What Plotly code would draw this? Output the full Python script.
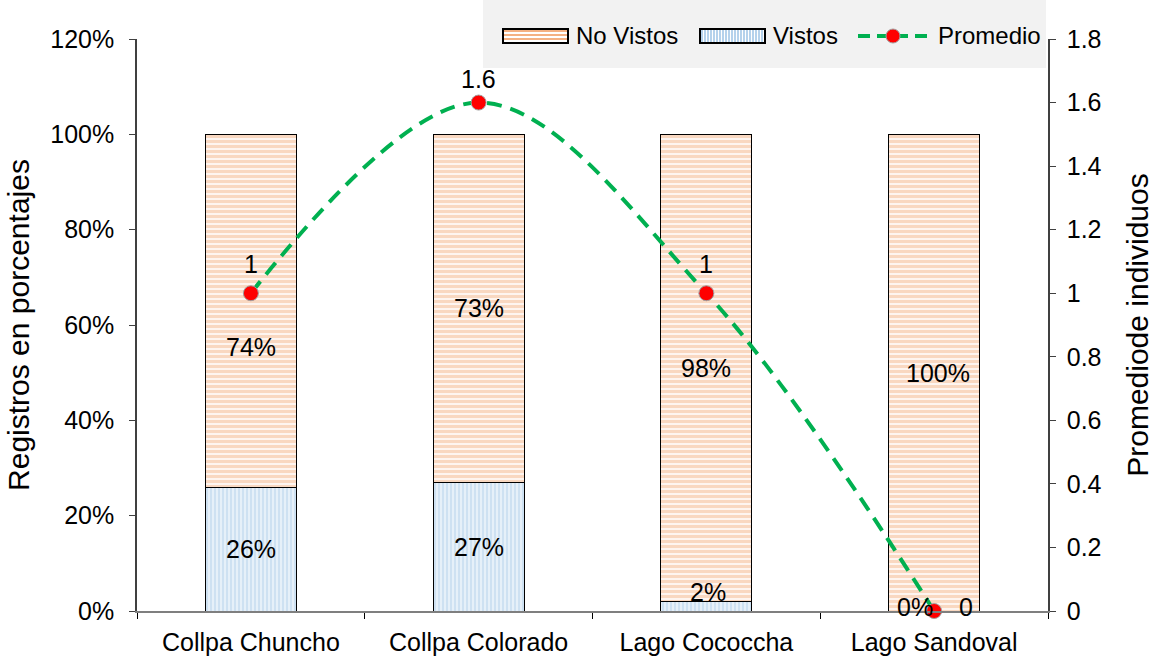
import plotly.graph_objects as go

# Sites and observation shares
sitios = ["Collpa Chuncho", "Collpa Colorado", "Lago Cococcha", "Lago Sandoval"]
vistos = [0.26, 0.27, 0.02, 0.00]
no_vistos = [0.74, 0.73, 0.98, 1.00]
promedio = [1, 1.6, 1, 0]

FONT = "Liberation Sans, Arial, sans-serif"
FS = 25
ORANGE = "#F4B183"
BLUE = "#9DC3E6"
GREEN = "#00B050"

# Figure geometry (pixels)
W, H = 1156, 660
L, R, B = 137, 108, 49
PLOT_TOP = 39
PW = W - L - R
PH = H - B  # paper height (top margin is zero)


def px(x):
    return (x - L) / PW


def py(y):
    return (PH - y) / PH


fig = go.Figure()

fig.add_trace(go.Bar(
    x=sitios, y=vistos, name="Vistos", showlegend=False,
    marker=dict(color="white", line=dict(color="black", width=1),
                pattern=dict(shape="|", fgcolor=BLUE, bgcolor="white",
                             size=4, solidity=0.75)),
    width=0.4,
))
fig.add_trace(go.Bar(
    x=sitios, y=no_vistos, name="No Vistos", showlegend=False,
    marker=dict(color="white", line=dict(color="black", width=1),
                pattern=dict(shape="-", fgcolor=ORANGE, bgcolor="white",
                             size=5, solidity=0.7)),
    width=0.4,
))
fig.add_trace(go.Scatter(
    x=sitios, y=promedio, name="Promedio", yaxis="y2", showlegend=False,
    mode="lines+markers",
    line=dict(color=GREEN, width=4, dash="15px,9px", shape="spline", smoothing=1.0),
    marker=dict(color="#FF0000", size=15, line=dict(color="#A0A0A0", width=1)),
    cliponaxis=False,
))

txt = dict(family=FONT, size=FS, color="black")

# Percentage labels inside each stacked segment
shifts_v = [(0, 0), (0, 0), (2, 14), (-19, 4)]
shifts_n = [(0, -36), (0, 0), (0, 0), (4, 0)]
for i, s in enumerate(sitios):
    fig.add_annotation(x=s, y=vistos[i] / 2, text=f"{vistos[i]:.0%}", showarrow=False,
                       xshift=shifts_v[i][0], yshift=shifts_v[i][1], font=txt)
    fig.add_annotation(x=s, y=vistos[i] + no_vistos[i] / 2, text=f"{no_vistos[i]:.0%}",
                       showarrow=False, xshift=shifts_n[i][0], yshift=shifts_n[i][1],
                       font=txt)

# Average labels next to each point
shifts_p = [(0, 29), (0, 24), (0, 29), (32, 4)]
for i, s in enumerate(sitios):
    fig.add_annotation(x=s, y=promedio[i], yref="y2", text=f"{promedio[i]:g}",
                       showarrow=False, xshift=shifts_p[i][0], yshift=shifts_p[i][1],
                       font=txt)

# Legend box drawn by hand so the swatches are wide pattern rectangles
shapes = [dict(type="rect", xref="paper", yref="paper", x0=px(483), x1=px(1046),
               y0=py(68), y1=py(0), fillcolor="#F2F2F2", line=dict(width=0), layer="below")]
sw_y0, sw_y1 = 29, 43
shapes.append(dict(type="rect", xref="paper", yref="paper", x0=px(503), x1=px(568),
                   y0=py(sw_y1), y1=py(sw_y0), fillcolor="white", line=dict(width=0)))
for yy in range(31, 43, 4):
    shapes.append(dict(type="line", xref="paper", yref="paper", x0=px(503), x1=px(568),
                       y0=py(yy), y1=py(yy), line=dict(color=ORANGE, width=2)))
shapes.append(dict(type="rect", xref="paper", yref="paper", x0=px(503), x1=px(568),
                   y0=py(sw_y1), y1=py(sw_y0), line=dict(color="black", width=2)))
shapes.append(dict(type="rect", xref="paper", yref="paper", x0=px(700), x1=px(765),
                   y0=py(sw_y1), y1=py(sw_y0), fillcolor="white", line=dict(width=0)))
for xx in range(702, 765, 3):
    shapes.append(dict(type="line", xref="paper", yref="paper", x0=px(xx), x1=px(xx),
                       y0=py(sw_y1), y1=py(sw_y0), line=dict(color=BLUE, width=1.5)))
shapes.append(dict(type="rect", xref="paper", yref="paper", x0=px(700), x1=px(765),
                   y0=py(sw_y1), y1=py(sw_y0), line=dict(color="black", width=2)))
shapes.append(dict(type="line", xref="paper", yref="paper", x0=px(858), x1=px(930),
                   y0=py(36), y1=py(36), line=dict(color=GREEN, width=4, dash="12px,7px")))
shapes.append(dict(type="circle", xref="paper", yref="paper", x0=px(886), x1=px(900),
                   y0=py(43), y1=py(29), fillcolor="#FF0000",
                   line=dict(color="#A0A0A0", width=1)))
fig.update_layout(shapes=shapes)
for label, x0 in [("No Vistos", 574), ("Vistos", 771), ("Promedio", 936)]:
    fig.add_annotation(xref="paper", yref="paper", x=px(x0), y=py(36), text=label,
                       showarrow=False, xanchor="left", yanchor="middle",
                       font=dict(family=FONT, size=24, color="black"))

fig.update_layout(
    width=W, height=H,
    margin=dict(l=L, r=R, t=0, b=B),
    barmode="stack",
    plot_bgcolor="white", paper_bgcolor="white",
    font=txt,
    showlegend=False,
    xaxis=dict(showline=True, linecolor="#7F7F7F", linewidth=1.5,
               ticks="outside", tickson="boundaries", ticklen=6, tickcolor="black",
               showgrid=False, automargin=False, ticklabelstandoff=8),
    yaxis=dict(title=dict(text="Registros en porcentajes", standoff=12),
               domain=[0, (PH - PLOT_TOP) / PH],
               range=[0, 1.2], dtick=0.2, tickformat=".0%",
               showline=True, linecolor="#404040", linewidth=1.5,
               ticks="outside", ticklen=6, tickcolor="#404040", showgrid=False,
               zeroline=False, automargin=False, ticklabelstandoff=10),
    yaxis2=dict(title=dict(text="Promediode individuos", standoff=26),
                overlaying="y", side="right", range=[0, 1.8], dtick=0.2,
                showline=True, linecolor="#404040", linewidth=1.5,
                ticks="outside", ticklen=6, tickcolor="#404040", showgrid=False,
                zeroline=False, automargin=False, ticklabelstandoff=6),
)

fig.write_html("out.html")
